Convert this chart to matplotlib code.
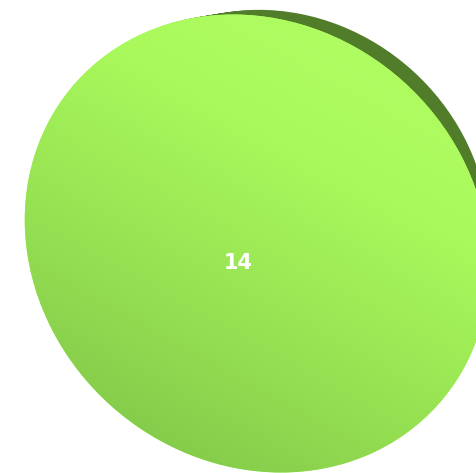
import numpy as np
import matplotlib
matplotlib.use("Agg")
import matplotlib.pyplot as plt
from matplotlib.transforms import Affine2D
from matplotlib.colors import LinearSegmentedColormap

# data
values = [14]
labels = ["14"]
face_colors = ["#a9fb5c"]
rim_color = "#517d2b"

W, H = 476, 473
fig = plt.figure(figsize=(W / 100, H / 100), dpi=100)
ax = fig.add_axes([0, 0, 1, 1])

# tilted disk geometry (pixel units, y down): sheared ellipse
cx, cy = 257, 243.5
rx, ry = 231, 229
shear = 24
# back face: shifted up-right and a bit smaller (perspective)
depth = (23.5, -28)
back_scale = 0.898
steps = 12

def disk_tf(dx=0.0, dy=0.0, s=1.0):
    m = np.array([[rx * s, shear * s, cx + dx],
                  [0, ry * s, cy + dy],
                  [0, 0, 1]])
    return Affine2D(m) + ax.transData

# extruded side: stack of shifted copies of the pie
for k in range(steps, 0, -1):
    f = k / steps
    back, _ = ax.pie(values, colors=[rim_color], radius=1, center=(0, 0),
                     wedgeprops=dict(linewidth=0))
    for w in back:
        w.set_transform(disk_tf(depth[0] * f, depth[1] * f, 1 - f * (1 - back_scale)))

front, _ = ax.pie(values, colors=face_colors, radius=1, center=(0, 0),
                  wedgeprops=dict(linewidth=0))
for w in front:
    w.set_transform(disk_tf())

# shading gradient on the top face, light at upper right
yy, xx = np.mgrid[0:H, 0:W]
d = np.array([-0.55, 1.0])
d = d / np.linalg.norm(d)
t = ((xx - cx) * d[0] + (yy - cy) * d[1])
t = (t - t.min()) / (t.max() - t.min())
cmap = LinearSegmentedColormap.from_list("face", ["#b4ff66", "#a9f95c", "#93dd51", "#7abd46"])
img = ax.imshow(t, cmap=cmap, extent=(0, W, H, 0), origin="upper", zorder=3,
                interpolation="bilinear")
img.set_clip_path(front[0])

ax.text(238, 263, labels[0], color="white", fontsize=15, fontweight="bold",
        ha="center", va="center", zorder=5, family="DejaVu Sans")

ax.set_xlim(0, W)
ax.set_ylim(H, 0)
ax.set_aspect("auto")
ax.axis("off")
fig.savefig("out.png", dpi=100)
